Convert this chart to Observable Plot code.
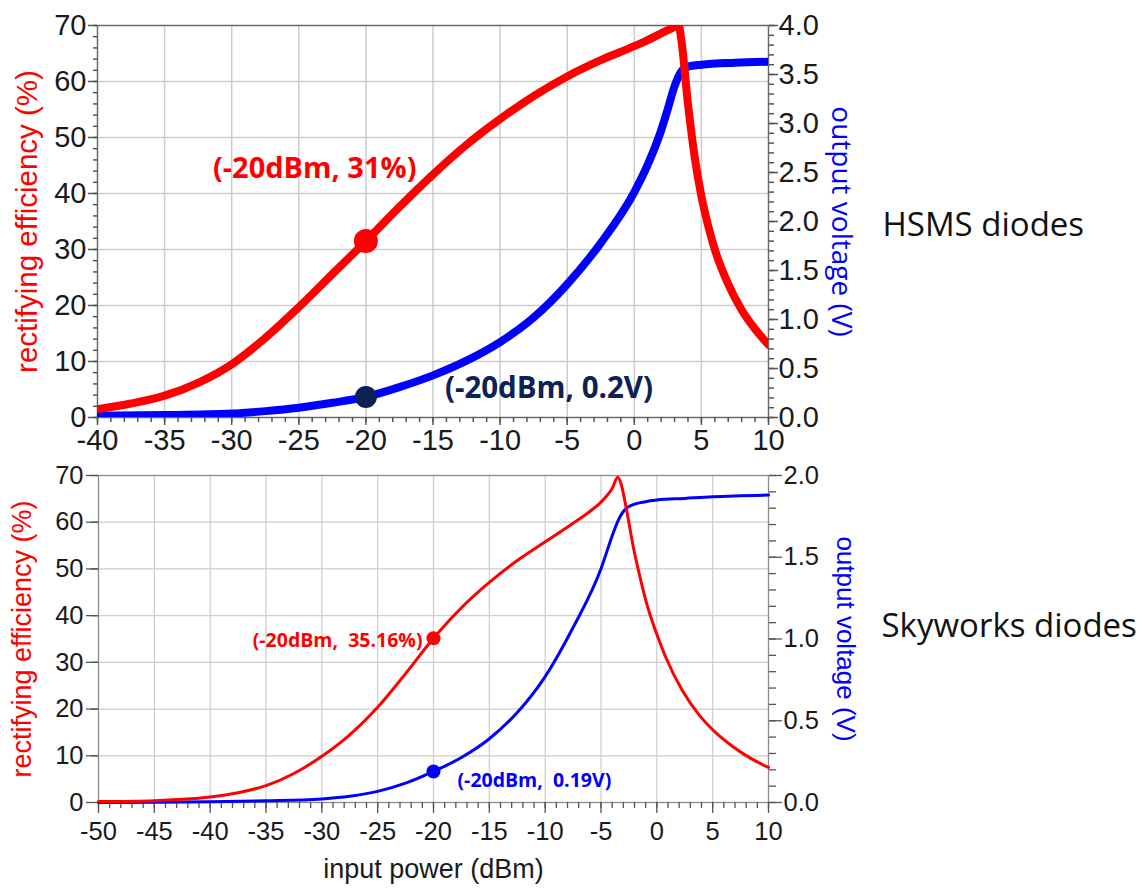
<!DOCTYPE html>
<html><head><meta charset="utf-8">
<script src="https://cdn.jsdelivr.net/npm/d3@7"></script>
<script src="https://cdn.jsdelivr.net/npm/@observablehq/plot@0.6"></script>
<style>body{margin:0;background:#fff;} #chart svg{display:block;}</style>
</head><body><div id="chart"></div>
<script>
// ---------- HSMS diodes (top panel) ----------
const hsmsEffPower = [-40,-37.5,-35,-32.5,-30,-27.5,-25,-22.5,-20,-17.5,-15,-12.5,-10,-7.5,-5,-2.5,0,1,2,3,3.3,3.5,4,4.5,5,5.5,6,7,8,9,10];
const hsmsEff      = [1.5,2.5,3.9,6.2,9.5,14.2,19.7,25.6,31.5,37.6,43.4,48.7,53.3,57.4,60.9,63.8,66.3,67.4,68.6,69.8,70.2,67.5,56,46.5,39.5,34.3,30.0,23.8,19.2,15.8,13.0];
const hsmsVoltPower = [-40,-35,-30,-27.5,-25,-22.5,-20,-17.5,-15,-12.5,-10,-7.5,-5,-2.5,0,1,2,2.5,3,3.5,4,5,7.5,10];
const hsmsVolt      = [0.02,0.025,0.04,0.065,0.1,0.15,0.21,0.31,0.43,0.58,0.77,1.02,1.36,1.78,2.3,2.58,2.93,3.15,3.38,3.53,3.58,3.6,3.62,3.63];
const hsmsMarkPower = [-20];
const hsmsMarkEff = [31.5];
const hsmsMarkVolt = [0.21];
const hsmsEffLabel = ["(-20dBm, 31%)"];
const hsmsVoltLabel = ["(-20dBm, 0.2V)"];
const topPowerTicks = [-40,-35,-30,-25,-20,-15,-10,-5,0,5,10];
const topEffTicks = [0,10,20,30,40,50,60,70];
const topVoltTicks = [0,0.5,1.0,1.5,2.0,2.5,3.0,3.5,4.0];

// ---------- Skyworks diodes (bottom panel) ----------
const skyEffPower = [-50,-45,-42.5,-40,-37.5,-35,-32.5,-30,-27.5,-25,-22.5,-20,-17.5,-15,-12.5,-10,-7.5,-6,-5,-4.5,-4,-3.5,-3.2,-2.7,-2.1,-1.5,-0.9,0,0.8,2.3,3.8,5.3,6.8,8.3,10];
const skyEff      = [0.2,0.4,0.7,1.2,2.1,3.6,6.2,9.9,14.5,20.4,27.6,35.16,41.7,47.1,51.8,55.8,59.8,62.3,64.3,65.6,67.2,69.6,68.2,62.5,54.6,48.2,42.5,36,31.1,23.9,18.7,14.9,12.0,9.6,7.5];
const skyVoltPower = [-50,-45,-40,-35,-30,-27.5,-25,-22.5,-20,-17.5,-15,-12.5,-10,-7.5,-5,-4,-3.5,-3,-2.5,-1,0,2.5,5,10];
const skyVolt      = [0,0.002,0.004,0.01,0.022,0.038,0.068,0.118,0.19,0.275,0.39,0.55,0.77,1.07,1.43,1.63,1.72,1.78,1.81,1.84,1.85,1.86,1.87,1.88];
const skyMarkPower = [-20];
const skyMarkEff = [35.16];
const skyMarkVolt = [0.19];
const skyEffLabel = ["(-20dBm,  35.16%)"];
const skyVoltLabel = ["(-20dBm,  0.19V)"];
const botPowerTicks = [-50,-45,-40,-35,-30,-25,-20,-15,-10,-5,0,5,10];
const botEffTicks = [0,10,20,30,40,50,60,70];
const botVoltTicks = [0,0.5,1.0,1.5,2.0];

const RED = "#ff0000", BLUE = "#0000ff", NAVY = "#0c2156";
const GRID = "#cdcdcd", AX = "#555", TXT = "#1a1a1a";
const SANS = "'Liberation Sans', Arial, sans-serif", OPEN = "'Open Sans', sans-serif";
const zip = (xs, ys) => xs.map((x, i) => ({p: x, v: ys[i]}));
const range = (a, b, s) => d3.range(Math.round(a / s), Math.round(b / s) + 1).map(i => +(i * s).toFixed(4));
const fmtInt = d => String(d);

// ---- top plot ----
const k1 = 70 / 4;
const F1 = 29;
const topPlot = Plot.plot({
  width: 1147, height: 455,
  marginTop: 25, marginBottom: 38, marginLeft: 97, marginRight: 379,
  x: {domain: [-40, 10]},
  y: {domain: [0, 70]},
  style: {fontFamily: SANS, fontSize: F1 + "px", color: TXT, background: "#fff", overflow: "visible"},
  marks: [
    Plot.gridX(topPowerTicks.slice(1, -1), {stroke: GRID, strokeOpacity: 1, strokeWidth: 1.5}),
    Plot.gridY(topEffTicks.slice(1, -1), {stroke: GRID, strokeOpacity: 1, strokeWidth: 1.5}),
    Plot.frame({stroke: "#6a6a6a", strokeWidth: 1.5}),
    Plot.axisX(range(-40, 10, 1), {tickSize: 5, fill: "none", stroke: AX, strokeWidth: 1.5, label: null}),
    Plot.axisX(topPowerTicks, {tickSize: 8, tickPadding: 4, stroke: AX, strokeWidth: 1.5, fill: TXT, fontSize: F1, fontFamily: SANS, tickFormat: fmtInt, label: null}),
    Plot.axisY(range(0, 70, 2), {anchor: "left", tickSize: 4, fill: "none", stroke: AX, strokeWidth: 1.5, label: null}),
    Plot.axisY(topEffTicks, {anchor: "left", tickSize: 9, tickPadding: 2, stroke: AX, strokeWidth: 1.5, fill: TXT, fontSize: F1, fontFamily: SANS, tickFormat: fmtInt, label: null}),
    Plot.axisY(range(0, 4, 0.1).map(v => v * k1), {anchor: "right", tickSize: 5, fill: "none", stroke: AX, strokeWidth: 1.5, label: null}),
    Plot.axisY(topVoltTicks.map(v => v * k1), {anchor: "right", tickSize: 9, tickPadding: 1, stroke: AX, strokeWidth: 1.5, fill: TXT, fontSize: F1, fontFamily: SANS, tickFormat: d => (d / k1).toFixed(1), label: null}),
    Plot.line(zip(hsmsVoltPower, hsmsVolt), {x: "p", y: d => d.v * k1, stroke: BLUE, strokeWidth: 8, curve: "monotone-x", clip: true}),
    Plot.line(zip(hsmsEffPower, hsmsEff), {x: "p", y: "v", stroke: RED, strokeWidth: 8, curve: "monotone-x", clip: true}),
    Plot.dot(zip(hsmsMarkPower, hsmsMarkEff), {x: "p", y: "v", r: 12, fill: RED}),
    Plot.dot(zip(hsmsMarkPower, hsmsMarkVolt), {x: "p", y: d => d.v * k1, r: 11, fill: NAVY}),
    Plot.text(zip(hsmsMarkPower, hsmsMarkEff), {x: "p", y: "v", text: () => hsmsEffLabel[0], dx: -153, dy: -72, textAnchor: "start", fill: RED, fontWeight: "bold", fontSize: 29, fontFamily: OPEN}),
    Plot.text(zip(hsmsMarkPower, hsmsMarkVolt), {x: "p", y: d => d.v * k1, text: () => hsmsVoltLabel[0], dx: 79, dy: -8, textAnchor: "start", fill: NAVY, fontWeight: "bold", fontSize: 29.5, fontFamily: OPEN}),
    Plot.text(["rectifying efficiency (%)"], {text: d => d, frameAnchor: "left", dx: -70, rotate: -90, textAnchor: "middle", fill: RED, fontSize: 29.5, fontFamily: SANS}),
    Plot.text(["output voltage (V)"], {text: d => d, frameAnchor: "right", dx: 72, rotate: 90, textAnchor: "middle", fill: BLUE, fontSize: 28, fontFamily: OPEN}),
    Plot.text(["HSMS diodes"], {text: d => d, frameAnchor: "right", dx: 114, dy: 4, textAnchor: "start", fill: "#111", fontSize: 33, fontFamily: OPEN})
  ]
});

// ---- bottom plot ----
const k2 = 70 / 2;
const F2 = 25.5;
const botPlot = Plot.plot({
  width: 1147, height: 435,
  marginTop: 20, marginBottom: 88, marginLeft: 98, marginRight: 379,
  x: {domain: [-50, 10]},
  y: {domain: [0, 70]},
  style: {fontFamily: SANS, fontSize: F2 + "px", color: TXT, background: "#fff", overflow: "visible"},
  marks: [
    Plot.gridX(botPowerTicks.slice(1, -1), {stroke: GRID, strokeOpacity: 1, strokeWidth: 1.2}),
    Plot.gridY(botEffTicks.slice(1, -1), {stroke: GRID, strokeOpacity: 1, strokeWidth: 1.2}),
    Plot.frame({stroke: "#8a8a8a", strokeWidth: 1.3}),
    Plot.axisX(range(-50, 10, 1), {tickSize: 6, fill: "none", stroke: AX, strokeWidth: 1.3, label: null}),
    Plot.axisX(botPowerTicks, {tickSize: 11, tickPadding: 8, stroke: AX, strokeWidth: 1.3, fill: TXT, fontSize: F2, fontFamily: SANS, tickFormat: fmtInt, label: null}),
    Plot.axisY(range(5, 65, 10), {anchor: "left", tickSize: 7, fill: "none", stroke: AX, strokeWidth: 1.3, label: null}),
    Plot.axisY(botEffTicks, {anchor: "left", tickSize: 12, tickPadding: 3, stroke: AX, strokeWidth: 1.3, fill: TXT, fontSize: F2, fontFamily: SANS, tickFormat: fmtInt, label: null}),
    Plot.axisY(range(0, 2, 0.1).map(v => v * k2), {anchor: "right", tickSize: 7, fill: "none", stroke: AX, strokeWidth: 1.3, label: null}),
    Plot.axisY(botVoltTicks.map(v => v * k2), {anchor: "right", tickSize: 13, tickPadding: 2, stroke: AX, strokeWidth: 1.3, fill: TXT, fontSize: F2, fontFamily: SANS, tickFormat: d => (d / k2).toFixed(1), label: null}),
    Plot.line(zip(skyVoltPower, skyVolt), {x: "p", y: d => d.v * k2, stroke: BLUE, strokeWidth: 3, curve: "monotone-x"}),
    Plot.line(zip(skyEffPower, skyEff), {x: "p", y: "v", stroke: RED, strokeWidth: 3, curve: "monotone-x"}),
    Plot.dot(zip(skyMarkPower, skyMarkEff), {x: "p", y: "v", r: 7, fill: RED}),
    Plot.dot(zip(skyMarkPower, skyMarkVolt), {x: "p", y: d => d.v * k2, r: 7, fill: BLUE}),
    Plot.text(zip(skyMarkPower, skyMarkEff), {x: "p", y: "v", text: () => skyEffLabel[0], dx: -11, dy: 2, textAnchor: "end", fill: RED, fontWeight: "bold", fontSize: 19.5, fontFamily: OPEN}),
    Plot.text(zip(skyMarkPower, skyMarkVolt), {x: "p", y: d => d.v * k2, text: () => skyVoltLabel[0], dx: 24, dy: 9, textAnchor: "start", fill: BLUE, fontWeight: "bold", fontSize: 19.5, fontFamily: OPEN}),
    Plot.text(["rectifying efficiency (%)"], {text: d => d, frameAnchor: "left", dx: -76, rotate: -90, textAnchor: "middle", fill: RED, fontSize: 27, fontFamily: SANS}),
    Plot.text(["output voltage (V)"], {text: d => d, frameAnchor: "right", dx: 77, rotate: 90, textAnchor: "middle", fill: BLUE, fontSize: 26, fontFamily: SANS}),
    Plot.text(["input power (dBm)"], {text: d => d, frameAnchor: "bottom", dy: 75, textAnchor: "middle", fill: TXT, fontSize: 27, fontFamily: SANS}),
    Plot.text(["Skyworks diodes"], {text: d => d, frameAnchor: "right", dx: 113, dy: -13, textAnchor: "start", fill: "#111", fontSize: 33, fontFamily: OPEN})
  ]
});

document.getElementById("chart").append(topPlot, botPlot);
</script>
</body></html>
